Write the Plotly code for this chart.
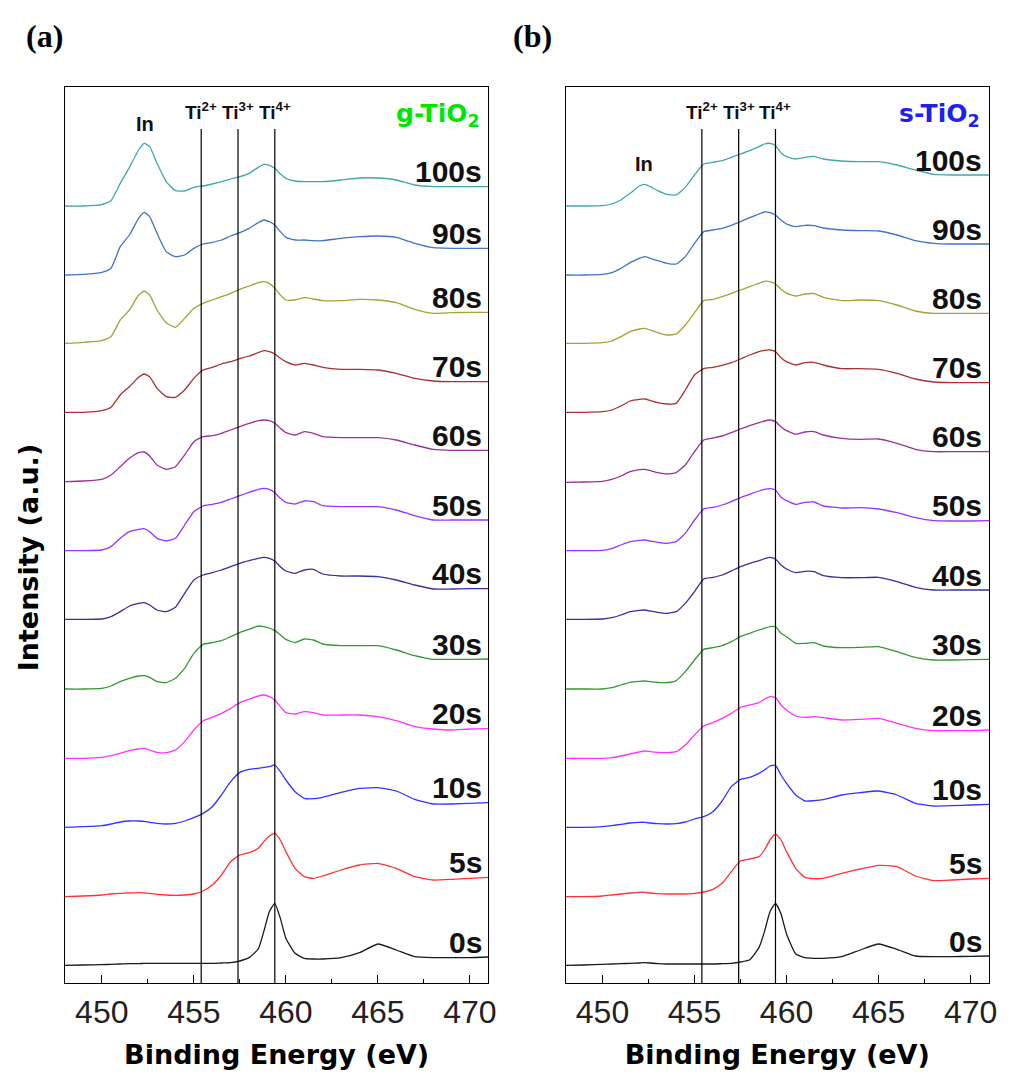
import plotly.graph_objects as go

# ---------------- data ----------------
energy_ev = [448, 449, 450, 450.5, 451, 451.5, 452, 452.3, 452.6, 453,
             453.5, 454, 454.5, 455, 455.5, 456, 456.5, 457, 457.5, 458,
             458.5, 458.8, 459.1, 459.4, 459.7, 460, 460.5, 461, 461.5, 462,
             463, 464, 465, 466, 467, 468, 469, 470, 471]

time_labels = ["0s", "5s", "10s", "20s", "30s", "40s", "50s", "60s", "70s", "80s", "90s", "100s"]

# g-TiO2 (panel a), stacked intensities (a.u.)
g_0s = [53, 54, 55, 56, 57, 58, 58, 59, 59, 59,
        59, 59, 59, 59, 59, 59, 60, 61, 66, 76,
        102, 154, 214, 239, 194, 134, 89, 74, 72, 72,
        76, 91, 117, 99, 79, 76, 76, 76, 78]
g_5s = [259, 261, 264, 267, 269, 270, 271, 270, 269, 266,
        264, 263, 264, 267, 276, 294, 324, 364, 384, 391,
        404, 424, 441, 449, 429, 394, 344, 319, 314, 321,
        339, 354, 359, 344, 319, 309, 311, 314, 317]
g_10s = [467, 469, 472, 477, 483, 486, 486, 485, 482, 479,
         477, 479, 486, 496, 509, 529, 564, 604, 632, 641,
         644, 647, 649, 654, 634, 609, 574, 554, 553, 557,
         572, 584, 586, 576, 551, 537, 537, 539, 541]
g_20s = [674, 674, 677, 682, 689, 697, 702, 704, 699, 692,
         691, 699, 724, 759, 786, 797, 809, 824, 841, 851,
         861, 864, 859, 849, 829, 811, 807, 814, 811, 804,
         804, 804, 799, 787, 769, 762, 759, 762, 763]
g_30s = [882, 882, 884, 891, 904, 914, 921, 922, 917, 904,
         901, 914, 944, 989, 1016, 1021, 1027, 1039, 1051, 1061,
         1071, 1069, 1065, 1057, 1044, 1031, 1021, 1032, 1029, 1017,
         1012, 1012, 1012, 999, 982, 971, 971, 971, 972]
g_40s = [1091, 1091, 1092, 1099, 1114, 1131, 1139, 1141, 1134, 1119,
         1114, 1127, 1169, 1209, 1224, 1231, 1239, 1249, 1259, 1267,
         1274, 1277, 1274, 1266, 1249, 1236, 1229, 1239, 1241, 1227,
         1221, 1221, 1219, 1209, 1194, 1182, 1182, 1183, 1183]
g_50s = [1297, 1297, 1299, 1309, 1334, 1354, 1361, 1363, 1354, 1334,
         1326, 1334, 1374, 1414, 1431, 1436, 1442, 1452, 1462, 1472,
         1481, 1484, 1481, 1471, 1454, 1442, 1437, 1446, 1444, 1432,
         1429, 1429, 1429, 1419, 1402, 1389, 1389, 1389, 1389]
g_60s = [1504, 1506, 1511, 1524, 1549, 1574, 1591, 1593, 1581, 1554,
         1541, 1549, 1584, 1624, 1639, 1642, 1649, 1659, 1669, 1679,
         1687, 1689, 1687, 1679, 1664, 1651, 1644, 1654, 1649, 1639,
         1636, 1636, 1636, 1629, 1614, 1601, 1598, 1598, 1598]
g_70s = [1712, 1712, 1717, 1727, 1764, 1789, 1817, 1827, 1819, 1784,
         1759, 1757, 1779, 1814, 1839, 1847, 1857, 1864, 1873, 1881,
         1891, 1897, 1894, 1887, 1874, 1864, 1854, 1859, 1854, 1847,
         1841, 1841, 1839, 1829, 1814, 1806, 1804, 1804, 1804]
g_80s = [1919, 1922, 1927, 1939, 1989, 2019, 2064, 2076, 2064, 2019,
         1981, 1967, 1994, 2024, 2039, 2049, 2059, 2069, 2081, 2091,
         2101, 2104, 2099, 2084, 2064, 2049, 2049, 2056, 2052, 2047,
         2047, 2051, 2049, 2041, 2021, 2009, 2011, 2012, 2012]
g_90s = [2124, 2126, 2132, 2144, 2209, 2244, 2294, 2312, 2299, 2249,
         2194, 2179, 2184, 2204, 2217, 2222, 2229, 2241, 2251, 2264,
         2281, 2289, 2284, 2274, 2254, 2237, 2229, 2229, 2227, 2227,
         2234, 2239, 2241, 2237, 2219, 2206, 2204, 2204, 2204]
g_100s = [2331, 2331, 2335, 2347, 2399, 2447, 2499, 2519, 2509, 2459,
          2404, 2377, 2376, 2387, 2391, 2397, 2404, 2412, 2419, 2429,
          2447, 2456, 2453, 2444, 2427, 2414, 2406, 2404, 2404, 2404,
          2409, 2415, 2415, 2409, 2394, 2389, 2389, 2389, 2389]

# s-TiO2 (panel b), stacked intensities (a.u.)
s_0s = [53, 54, 56, 57, 58, 59, 60, 61, 60, 58,
        57, 57, 57, 57, 57, 57, 58, 59, 63, 70,
        106, 154, 214, 239, 207, 147, 87, 76, 74, 74,
        79, 99, 117, 101, 81, 79, 79, 80, 81]
s_5s = [259, 259, 261, 264, 267, 270, 272, 272, 270, 268,
        267, 267, 267, 269, 273, 281, 299, 334, 366, 372,
        379, 399, 429, 447, 429, 394, 344, 317, 313, 314,
        329, 342, 353, 349, 321, 307, 309, 312, 314]
s_10s = [467, 467, 469, 472, 476, 480, 482, 482, 480, 478,
         477, 478, 483, 492, 499, 514, 546, 589, 611, 617,
         629, 639, 651, 653, 624, 599, 564, 546, 547, 550,
         564, 571, 576, 564, 539, 531, 532, 534, 536]
s_20s = [674, 674, 674, 676, 681, 687, 693, 696, 694, 692,
         691, 694, 714, 744, 771, 781, 794, 809, 827, 834,
         841, 851, 859, 857, 834, 819, 801, 797, 799, 796,
         789, 791, 794, 779, 764, 757, 757, 757, 759]
s_30s = [882, 882, 882, 886, 894, 902, 905, 906, 904, 902,
         901, 907, 934, 969, 1001, 1006, 1012, 1024, 1039, 1049,
         1059, 1064, 1069, 1069, 1049, 1039, 1019, 1019, 1021, 1011,
         1006, 1007, 1009, 994, 977, 969, 969, 970, 971]
s_40s = [1091, 1091, 1092, 1096, 1104, 1114, 1118, 1119, 1116, 1112,
         1109, 1114, 1139, 1174, 1212, 1217, 1224, 1236, 1249, 1259,
         1267, 1273, 1277, 1272, 1254, 1242, 1231, 1235, 1234, 1222,
         1216, 1216, 1217, 1204, 1187, 1179, 1179, 1179, 1179]
s_50s = [1297, 1297, 1298, 1303, 1314, 1324, 1328, 1329, 1326, 1322,
         1319, 1324, 1349, 1389, 1422, 1427, 1434, 1444, 1456, 1466,
         1476, 1481, 1483, 1479, 1457, 1447, 1436, 1442, 1443, 1431,
         1425, 1426, 1422, 1411, 1396, 1387, 1386, 1386, 1387]
s_60s = [1502, 1503, 1505, 1511, 1521, 1534, 1540, 1541, 1537, 1531,
         1527, 1531, 1554, 1594, 1629, 1635, 1641, 1651, 1662, 1672,
         1681, 1686, 1689, 1684, 1669, 1657, 1646, 1653, 1654, 1644,
         1634, 1631, 1632, 1619, 1601, 1594, 1594, 1594, 1594]
s_70s = [1712, 1712, 1714, 1719, 1731, 1746, 1751, 1752, 1747, 1741,
         1737, 1739, 1779, 1824, 1843, 1847, 1853, 1861, 1872, 1884,
         1894, 1898, 1899, 1894, 1876, 1864, 1854, 1861, 1862, 1854,
         1843, 1843, 1841, 1829, 1812, 1803, 1801, 1801, 1801]
s_80s = [1919, 1919, 1921, 1926, 1939, 1954, 1962, 1964, 1959, 1951,
         1944, 1947, 1974, 2011, 2047, 2051, 2059, 2069, 2079, 2089,
         2099, 2105, 2104, 2097, 2081, 2069, 2061, 2067, 2068, 2057,
         2047, 2049, 2047, 2034, 2016, 2009, 2009, 2009, 2009]
s_90s = [2124, 2124, 2126, 2131, 2144, 2161, 2174, 2179, 2174, 2167,
         2159, 2157, 2179, 2219, 2254, 2259, 2264, 2273, 2284, 2296,
         2307, 2313, 2311, 2304, 2289, 2277, 2269, 2273, 2272, 2265,
         2259, 2257, 2256, 2244, 2227, 2219, 2217, 2217, 2217]
s_100s = [2331, 2331, 2332, 2337, 2349, 2369, 2391, 2396, 2389, 2377,
          2366, 2364, 2387, 2424, 2457, 2462, 2467, 2477, 2487, 2497,
          2509, 2517, 2519, 2512, 2491, 2479, 2472, 2477, 2480, 2472,
          2466, 2464, 2464, 2454, 2439, 2426, 2424, 2424, 2424]

ti_labels = ["Ti<sup>2+</sup>", "Ti<sup>3+</sup>", "Ti<sup>4+</sup>"]
ti_energies = [455.4, 457.4, 459.4]
x_ticks = [450, 455, 460, 465, 470]
x_minor_ticks = [452.5, 457.5, 462.5, 467.5]

# ---------------- styling ----------------
line_colors = ["#1a1a1a", "#FF3333", "#3333FF", "#FF33FF", "#339933", "#333399",
               "#9933FF", "#993399", "#A83232", "#A3A336", "#4472C4", "#3FA9A9"]

g_series = [g_0s, g_5s, g_10s, g_20s, g_30s, g_40s, g_50s, g_60s, g_70s, g_80s, g_90s, g_100s]
s_series = [s_0s, s_5s, s_10s, s_20s, s_30s, s_40s, s_50s, s_60s, s_70s, s_80s, s_90s, s_100s]

X_RANGE = [448, 471]
Y_RANGE = [0, 2688]
LINE_TOP = 2562
LABEL_X = 470.74

SANS = "Liberation Sans, Arial, sans-serif"
WIDE = "DejaVu Sans, Verdana, sans-serif"
SERIF = "Liberation Serif, Times New Roman, serif"

fig = go.Figure()
annotations = []
shapes = []

panels = [
    ("x", "y", g_series, "g-TiO<sub>2</sub>", "#00E600", 452.33, 2577),
    ("x2", "y2", s_series, "s-TiO<sub>2</sub>", "#1F1FEE", 452.28, 2457),
]

for xref, yref, series, name, name_color, in_x, in_y in panels:
    for label, vals, col in zip(time_labels, series, line_colors):
        fig.add_trace(go.Scatter(
            x=energy_ev, y=vals, mode="lines", name=label,
            line=dict(color=col, width=1.3, shape="spline", smoothing=0.45),
            xaxis=xref, yaxis=yref, showlegend=False, hoverinfo="x+y+name"))
        annotations.append(dict(
            x=LABEL_X, y=vals[-1], xref=xref, yref=yref, text=label,
            xanchor="right", yanchor="middle", yshift=15, showarrow=False,
            font=dict(family=SANS, size=30, color="#111111", weight="bold")))
    for pos, lab in zip(ti_energies, ti_labels):
        shapes.append(dict(type="line", xref=xref, yref=yref, x0=pos, x1=pos,
                           y0=Y_RANGE[0], y1=LINE_TOP, line=dict(color="black", width=1.2)))
        annotations.append(dict(
            x=pos, y=LINE_TOP, xref=xref, yref=yref, text=lab,
            xanchor="center", yanchor="bottom", yshift=4, showarrow=False,
            font=dict(family=SANS, size=19, color="#111111", weight="bold")))
    annotations.append(dict(
        x=in_x, y=in_y, xref=xref, yref=yref, text="In",
        xanchor="center", yanchor="middle", showarrow=False,
        font=dict(family=SANS, size=20, color="#111111", weight="bold")))
    annotations.append(dict(
        x=470.63, y=2604, xref=xref, yref=yref, text=name,
        xanchor="right", yanchor="middle", showarrow=False,
        font=dict(family=WIDE, size=25, color=name_color, weight="bold")))

# panel letters
annotations.append(dict(x=-0.0225, y=1.057, xref="paper", yref="paper", text="(a)",
                        xanchor="center", yanchor="middle", showarrow=False,
                        font=dict(family=SERIF, size=32, color="black", weight="bold")))
annotations.append(dict(x=0.5064, y=1.057, xref="paper", yref="paper", text="(b)",
                        xanchor="center", yanchor="middle", showarrow=False,
                        font=dict(family=SERIF, size=32, color="black", weight="bold")))
# y-axis title
annotations.append(dict(x=-0.0397, y=0.4754, xref="paper", yref="paper",
                        text="Intensity (a.u.)", textangle=-90,
                        xanchor="center", yanchor="middle", showarrow=False,
                        font=dict(family=WIDE, size=27, color="black", weight="bold")))

xaxis_common = dict(
    range=X_RANGE, tickmode="array", tickvals=x_ticks, ticks="inside", ticklen=8,
    tickcolor="black", tickwidth=1, showline=True, mirror=True, linecolor="black",
    linewidth=1.2, showgrid=False, zeroline=False,
    tickfont=dict(family=SANS, size=32, color="#222222"),
    minor=dict(tickvals=x_minor_ticks, ticks="inside", ticklen=4,
               tickcolor="black", showgrid=False),
    title=dict(text="Binding Energy (eV)", standoff=16,
               font=dict(family=WIDE, size=27, color="black", weight="bold")),
)
yaxis_common = dict(
    range=Y_RANGE, showticklabels=False, ticks="", showline=True, mirror=True,
    linecolor="black", linewidth=1.2, showgrid=False, zeroline=False,
)

fig.update_layout(
    width=1009, height=1084,
    margin=dict(l=65, r=12, t=87, b=101),
    paper_bgcolor="white", plot_bgcolor="white",
    xaxis=dict(domain=[0, 0.45815], anchor="y", **xaxis_common),
    xaxis2=dict(domain=[0.54185, 1], anchor="y2", **xaxis_common),
    yaxis=dict(domain=[0, 1], anchor="x", **yaxis_common),
    yaxis2=dict(domain=[0, 1], anchor="x2", **yaxis_common),
    annotations=annotations, shapes=shapes, showlegend=False,
)

fig.write_html("out.html")
